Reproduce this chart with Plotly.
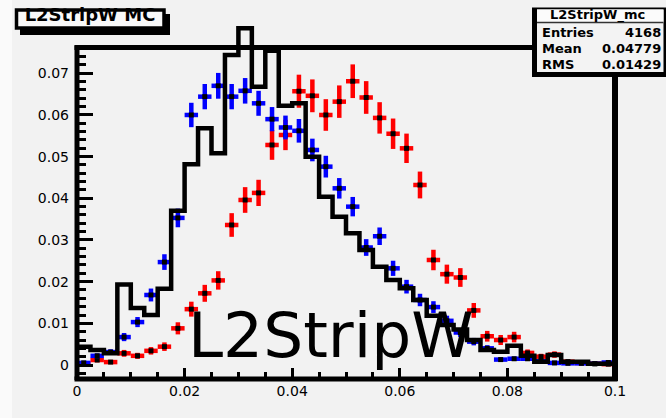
import numpy as np
import plotly.graph_objects as go

# ---------------- data ----------------
bin_lo = 0.0
bin_width = 0.0025
n_bins = 40

red_vals = [0.0004, 0.0012, 0.0007, 0.0028, 0.0022, 0.0034, 0.0044, 0.0088, 0.0134, 0.0172,
            0.0203, 0.0336, 0.0396, 0.0413, 0.0528, 0.0552, 0.0657, 0.0646, 0.0600, 0.0632,
            0.0681, 0.0642, 0.0593, 0.0555, 0.0520, 0.0432, 0.0252, 0.0218, 0.0210, 0.0131,
            0.0069, 0.0060, 0.0067, 0.0029, 0.0020, 0.0025, 0.0008, 0.0005, 0.0003, 0.0002]
blue_vals = [0.0005, 0.0022, 0.0031, 0.0067, 0.0103, 0.0168, 0.0247, 0.0353, 0.0600, 0.0644,
             0.0670, 0.0644, 0.0658, 0.0628, 0.0590, 0.0570, 0.0562, 0.0516, 0.0476, 0.0424,
             0.0380, 0.0282, 0.0309, 0.0232, 0.0188, 0.0156, 0.0139, 0.0106, 0.0078, 0.0056,
             0.0040, 0.0013, 0.0015, 0.0015, 0.0009, 0.0005, 0.0004, 0.0004, 0.0003, 0.0006]
black_vals = [0.0044, 0.0036, 0.0028, 0.0193, 0.0137, 0.0120, 0.0183, 0.0370, 0.0482, 0.0568,
              0.0508, 0.0744, 0.0808, 0.0668, 0.0754, 0.0622, 0.0628, 0.0500, 0.0404, 0.0356,
              0.0316, 0.0276, 0.0236, 0.0204, 0.0184, 0.0156, 0.0118, 0.0096, 0.0085, 0.0060,
              0.0036, 0.0032, 0.0046, 0.0022, 0.0008, 0.0024, 0.0008, 0.0008, 0.0003, 0.0003]

red_entries = 4168     # Poisson normalisation for the error bars
blue_entries = 7000

x_tick_vals = [0, 0.02, 0.04, 0.06, 0.08, 0.1]
x_tick_text = ["0", "0.02", "0.04", "0.06", "0.08", "0.1"]
y_tick_vals = [0, 0.01, 0.02, 0.03, 0.04, 0.05, 0.06, 0.07]
y_tick_text = ["0", "0.01", "0.02", "0.03", "0.04", "0.05", "0.06", "0.07"]

title_text = "L2StripW MC"
stats_title = "L2StripW_mc"
stats_rows = [("Entries", "4168"), ("Mean", "0.04779"), ("RMS", "0.01429")]
big_label = "L2StripW"

# ---------------- derived ----------------
edges = bin_lo + bin_width * np.arange(n_bins + 1)
centers = 0.5 * (edges[:-1] + edges[1:])
red = np.array(red_vals)
blue = np.array(blue_vals)
black = np.array(black_vals)
red_err = np.sqrt(red / red_entries)
blue_err = np.sqrt(blue / blue_entries)

W, H = 666, 418
L, R, T, B = 77, 51, 15, 40
pw, ph = W - L - R, H - T - B
def px(p):
    return (p - L) / pw
def py(p):
    return (H - B - p) / ph

# data y-range matching pixel layout: y_px = 365 - 4167*y
yr = [(365 - (H - B)) / 4167.0, (365 - T) / 4167.0]

fig = go.Figure()

def err_trace(vals, errs, color):
    return go.Scatter(
        x=centers, y=vals, mode="markers",
        marker=dict(symbol="square", size=5, color="black", line=dict(width=0)),
        error_y=dict(type="data", array=errs, color=color, thickness=4.5, width=0),
        error_x=dict(type="constant", value=bin_width / 2, color=color, thickness=4.5, width=0),
        showlegend=False, hoverinfo="skip", cliponaxis=False)

fig.add_trace(err_trace(red, red_err, "#ff0000"))
fig.add_trace(err_trace(blue, blue_err, "#0000ff"))

fig.add_trace(go.Scatter(
    x=edges, y=np.append(black, black[-1]), mode="lines",
    line=dict(shape="hv", color="black", width=4.5),
    showlegend=False, hoverinfo="skip"))

# title text (drawn as a trace so the box border can overlap it)
fig.add_trace(go.Scatter(
    x=[(90 - L) / 5380.0], y=[(365 - 16.0) / 4167.0], mode="text",
    text=["<b>" + title_text + "</b>"],
    textfont=dict(family="DejaVu Sans", size=18, color="black"),
    textposition="middle center", cliponaxis=False,
    showlegend=False, hoverinfo="skip"))

shapes = []
shapes.append(dict(type="rect", xref="paper", yref="paper", x0=px(0), x1=px(12), y0=py(H), y1=py(0),
                   fillcolor="#fafafa", line=dict(width=0), layer="below"))
# title box: shadow, fill, border
shapes.append(dict(type="rect", xref="paper", yref="paper", x0=px(20), x1=px(170), y0=py(35), y1=py(14),
                   fillcolor="black", line=dict(width=0), layer="below"))
shapes.append(dict(type="rect", xref="paper", yref="paper", x0=px(15), x1=px(165), y0=py(29), y1=py(9),
                   fillcolor="#f9f9f9", line=dict(width=0), layer="below"))
shapes.append(dict(type="rect", xref="paper", yref="paper", x0=px(16.5), x1=px(164), y0=py(28), y1=py(10),
                   line=dict(color="black", width=3.5), layer="above"))
# frame
fw = 5
shapes.append(dict(type="line", xref="paper", yref="paper", x0=px(77), x1=px(77), y0=py(380), y1=py(45.5),
                   line=dict(color="black", width=fw), layer="above"))
shapes.append(dict(type="line", xref="paper", yref="paper", x0=px(74.5), x1=px(617.5), y0=py(379), y1=py(379),
                   line=dict(color="black", width=fw), layer="above"))
shapes.append(dict(type="line", xref="paper", yref="paper", x0=px(74.5), x1=px(534), y0=py(47.5), y1=py(47.5),
                   line=dict(color="black", width=fw), layer="above"))
shapes.append(dict(type="line", xref="paper", yref="paper", x0=px(615), x1=px(615), y0=py(381), y1=py(74),
                   line=dict(color="black", width=fw + 1), layer="above"))
# stats box
shapes.append(dict(type="rect", xref="paper", yref="paper", x0=px(532), x1=px(668), y0=py(77), y1=py(7.5),
                   fillcolor="black", line=dict(width=0), layer="above"))
shapes.append(dict(type="rect", xref="paper", yref="paper", x0=px(537), x1=px(663.5), y0=py(72), y1=py(9.5),
                   fillcolor="#f3f3f3", line=dict(width=0), layer="above"))
shapes.append(dict(type="rect", xref="paper", yref="paper", x0=px(537), x1=px(663.5), y0=py(22.5), y1=py(9.5),
                   fillcolor="#fbfbfb", line=dict(width=0), layer="above"))
shapes.append(dict(type="line", xref="paper", yref="paper", x0=px(537), x1=px(663.5), y0=py(22.5), y1=py(22.5),
                   line=dict(color="#333333", width=1.5), layer="above"))

annotations = []
annotations.append(dict(xref="paper", yref="paper", x=px(597), y=py(15.5), text="<b>" + stats_title + "</b>",
                        showarrow=False, xanchor="center", yanchor="middle",
                        font=dict(family="DejaVu Sans", size=13, color="black")))
for i, (lab, val) in enumerate(stats_rows):
    yc = 33 + 15.5 * i
    annotations.append(dict(xref="paper", yref="paper", x=px(540), y=py(yc), text="<b>" + lab + "</b>",
                            showarrow=False, xanchor="left", yanchor="middle",
                            font=dict(family="DejaVu Sans", size=13, color="black")))
    annotations.append(dict(xref="paper", yref="paper", x=px(663), y=py(yc), text="<b>" + val + "</b>",
                            showarrow=False, xanchor="right", yanchor="middle",
                            font=dict(family="DejaVu Sans", size=13, color="black")))
annotations.append(dict(xref="paper", yref="paper", x=px(186), y=py(335), text=big_label,
                        showarrow=False, xanchor="left", yanchor="middle",
                        font=dict(family="DejaVu Sans", size=63, color="black")))

x_minor = [round(v, 4) for v in np.arange(0.005, 0.1, 0.005) if abs(v / 0.02 - round(v / 0.02)) > 1e-6]
y_minor = [round(v, 4) for v in np.arange(-0.002, 0.0765, 0.002) if abs(v / 0.01 - round(v / 0.01)) > 1e-6]

fig.update_layout(
    width=W, height=H,
    margin=dict(l=L, r=R, t=T, b=B, pad=0),
    paper_bgcolor="#f2f2f2", plot_bgcolor="#f2f2f2",
    shapes=shapes, annotations=annotations,
    xaxis=dict(range=[0, 0.1], tickmode="array", tickvals=x_tick_vals, ticktext=x_tick_text,
               ticks="inside", ticklen=10, tickwidth=3, tickcolor="black",
               minor=dict(tickmode="array", tickvals=x_minor, ticks="inside", ticklen=6,
                          tickwidth=3, tickcolor="black", showgrid=False),
               showgrid=False, zeroline=False, showline=False,
               tickfont=dict(family="DejaVu Sans", size=14, color="black"),
               ticklabelstandoff=3),
    yaxis=dict(range=yr, tickmode="array", tickvals=y_tick_vals, ticktext=y_tick_text,
               ticks="inside", ticklen=16, tickwidth=3, tickcolor="black",
               minor=dict(tickmode="array", tickvals=y_minor, ticks="inside", ticklen=9,
                          tickwidth=3, tickcolor="black", showgrid=False),
               showgrid=False, zeroline=False, showline=False,
               tickfont=dict(family="DejaVu Sans", size=14, color="black"),
               ticklabelstandoff=7),
)

fig.write_html("out.html", config={"displayModeBar": False},
               post_script="document.body.style.margin='0';document.body.style.padding='0';"
                           "document.body.style.background='#f2f2f2';")
